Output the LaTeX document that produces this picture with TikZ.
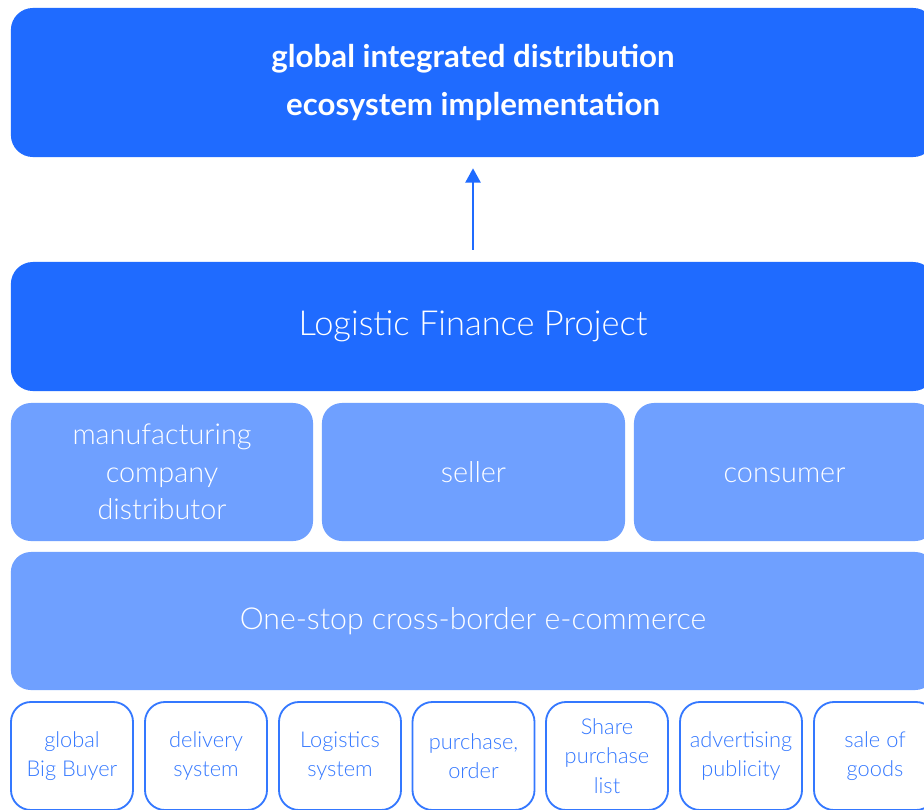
\documentclass[tikz,border=0pt]{standalone}
\usepackage{fontspec}
\setmainfont{Lato}
\newfontfamily\lightfont{Lato Light}
\usetikzlibrary{arrows.meta}
\definecolor{deepblue}{RGB}{31,107,255}
\definecolor{paleblue}{RGB}{111,160,255}
\definecolor{lineblue}{RGB}{52,120,255}
\begin{document}
\begin{tikzpicture}[x=0.025cm, y=-0.025cm,
    bigbox/.style={rounded corners=0.55cm, fill=deepblue, text=white, align=center,
      minimum width=23.1cm, inner sep=0pt},
    midbox/.style={rounded corners=0.5cm, fill=paleblue, text=white, align=center,
      minimum height=3.45cm, inner sep=0pt, font=\lightfont\fontsize{20.5}{26.5}\selectfont},
    smallbox/.style={rounded corners=0.5cm, draw=lineblue, line width=1.3pt, fill=white,
      text=lineblue, align=center, minimum width=3.05cm, minimum height=2.7cm, inner sep=0pt,
      font=\lightfont\fontsize{15.5}{20.8}\selectfont}]
    \clip (0,0) rectangle (924,809);
    \fill[white] (0,0) rectangle (924,809);

    % goal and project
    \node[bigbox, minimum height=3.725cm, font=\bfseries\fontsize{22.2}{34}\selectfont] (goal) at (473,82.5)
        {global integrated distribution\\ecosystem implementation};
    \node[bigbox, minimum height=3.225cm, font=\lightfont\fontsize{24.5}{30}\selectfont] (project) at (473,326.5)
        {Logistic Finance Project};
    \draw[deepblue, line width=1.5pt, shorten <=0.3cm, shorten >=0.275cm,
        -{Triangle[width=0.38cm, length=0.36cm]}] (project.north) -- (goal.south);

    % participants
    \node[midbox, minimum width=7.55cm] (maker) at (162,472) {manufacturing\\company\\distributor};
    \node[midbox, minimum width=7.575cm] (seller) at (473.5,472) {seller};
    \node[midbox, minimum width=7.525cm] (consumer) at (784.5,472) {\vphantom{l}consumer};

    % platform
    \node[midbox, minimum width=23.1cm] (platform) at (473,621)
        {\fontsize{21.5}{30}\selectfont One-stop cross-border e-commerce};

    % services
    \node[smallbox] (buyer) at (72,756) {global\\Big Buyer};
    \node[smallbox] (delivery) at (206,756) {delivery\\system};
    \node[smallbox] (logistics) at (340,756) {Logistics\\system};
    \node[smallbox] (order) at (473.5,756) {purchase,\\order};
    \node[smallbox] (share) at (607,756) {Share\\purchase\\list};
    \node[smallbox] (advert) at (741,756) {advertising\\publicity};
    \node[smallbox] (sale) at (875,756) {sale of\\goods};
\end{tikzpicture}
\end{document}
